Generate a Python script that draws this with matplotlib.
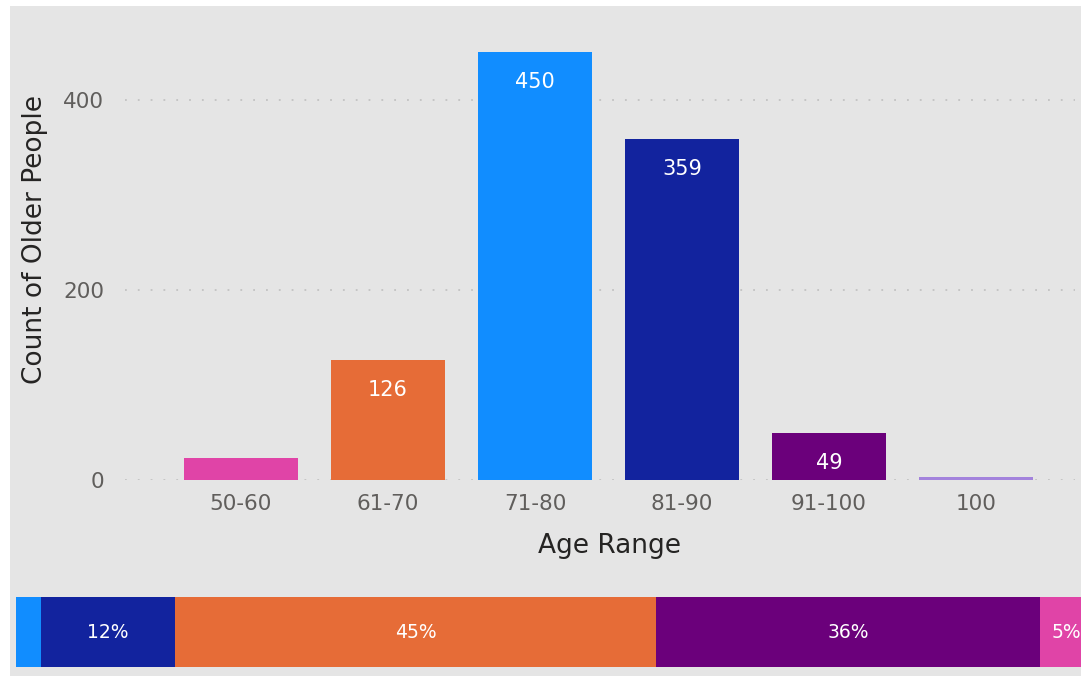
#!/usr/bin/env python3
# -*- coding: utf-8 -*-
import numpy as np
import matplotlib.pyplot as plt
from matplotlib.patches import Rectangle

# ---------------- data ----------------
age_ranges = ['50-60', '61-70', '71-80', '81-90', '91-100', '100']
counts = [23, 126, 450, 359, 49, 3]
bar_colors = ['#E044A7', '#E66C37', '#118DFF', '#12239E', '#6B007B', '#A383DC']
show_label = [False, True, True, True, True, False]

strip_values = [2.3, 12.5, 45, 35.8, 5]          # percentage strip at the bottom
strip_labels = ['', '12%', '45%', '36%', '5%']
strip_colors = ['#118DFF', '#12239E', '#E66C37', '#6B007B', '#E044A7']

yticks = [0, 200, 400]

# ---------------- figure ----------------
W, H = 1081, 676
fig = plt.figure(figsize=(W / 100, H / 100), dpi=100, facecolor='white')
bg = '#E5E5E5'
fig.patches.append(Rectangle((10 / W, 0), 1, 1 - 6 / H, transform=fig.transFigure,
                             facecolor=bg, edgecolor='none', zorder=-10))

font = 'DejaVu Sans'

# main column chart
ax = fig.add_axes([125 / W, (H - 480) / H, 950 / W, 440 / H])
ax.set_facecolor('none')
x = np.arange(len(age_ranges))
ax.bar(x, counts, width=0.776, color=bar_colors, zorder=3)
ax.set_xlim(-0.789, 5.673)
ax.set_ylim(0, 463)
ax.set_yticks(yticks)
ax.set_xticks(x)
ax.set_xticklabels(age_ranges)
for s in ax.spines.values():
    s.set_visible(False)
ax.tick_params(axis='y', length=0, pad=15, labelsize=15.5, labelcolor='#605E5C')
ax.tick_params(axis='x', length=0, pad=10, labelsize=15.5, labelcolor='#605E5C')
for lab in ax.get_xticklabels() + ax.get_yticklabels():
    lab.set_family(font)
for yv in yticks:
    ax.axhline(yv, color='#C2C2C2', lw=1.3, ls=(0, (1, 6.1)), zorder=1)

for xi, c, show in zip(x, counts, show_label):
    if show:
        ax.annotate(str(c), (xi, c), xytext=(0, -21.6), textcoords='offset points',
                    ha='center', va='center', color='white', fontsize=15,
                    family=font, zorder=4)

fig.text(35 / W, 1 - 240 / H, 'Count of Older People', rotation=90, ha='center',
         va='center', fontsize=19, color='#252423', family=font)
fig.text(610 / W, 1 - 546 / H, 'Age Range', ha='center', va='center',
         fontsize=19, color='#252423', family=font)

# bottom percentage strip
total = sum(strip_values)
ax2 = fig.add_axes([16 / W, (H - 667) / H, total * 10.71 / W, 70 / H])
ax2.set_xlim(0, total)
ax2.set_ylim(0, 1)
ax2.axis('off')
left = 0
for v, lab, col in zip(strip_values, strip_labels, strip_colors):
    ax2.barh(0.5, v, left=left, height=1, color=col)
    if lab:
        ax2.text(left + v / 2, 0.5, lab, ha='center', va='center', color='white',
                 fontsize=13.5, family=font)
    left += v

fig.savefig('out.png', dpi=100, facecolor=fig.get_facecolor())
